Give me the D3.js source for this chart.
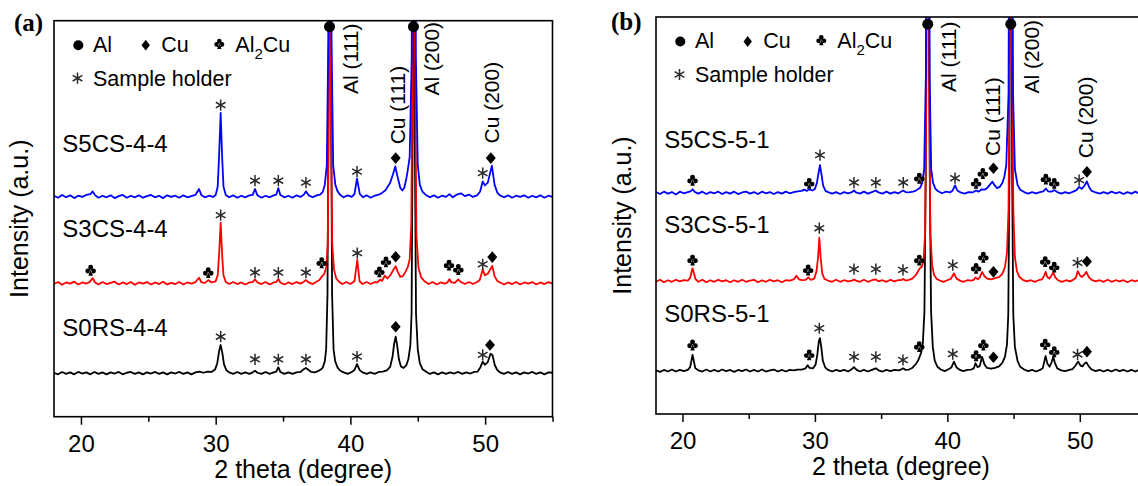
<!DOCTYPE html>
<html>
<head>
<meta charset="utf-8">
<script src="https://cdn.jsdelivr.net/npm/d3@7"></script>
<style>
  body { margin: 0; background: #fff; }
  svg { display: block; }
</style>
</head>
<body>
<svg id="chart" width="1138" height="486"></svg>
<script>
// axis values
const thetaDomain = [18, 55];
const intensityDomain = [0, 100];
const majorTicks = [20, 30, 40, 50];
const minorTicks = [25, 35, 45, 55];

// series names, colours and stacking offsets
const namesA = ["S5CS-4-4", "S3CS-4-4", "S0RS-4-4"];
const namesB = ["S5CS-5-1", "S3CS-5-1", "S0RS-5-1"];
const colors = ["#0000ff", "#ff0000", "#000000"];
const offsetsA = [55.6, 33.7, 11.0];
const offsetsB = [55.7, 33.5, 10.9];
const nameLevelsA = [66.9, 45.5, 20.4];
const nameLevelsB = [66.9, 45.5, 23.2];

// XRD patterns: [2 theta, intensity above own baseline]
const s5cs44 = [[18.0,0.2],[18.3,-0.3],[18.6,0.4],[18.9,-0.2],[19.2,0.3],[19.5,-0.4],[19.8,0.2],[20.1,-0.1],[20.4,0.4],[20.7,0.6],[20.87,1.3],[21.05,0.3],[21.3,-0.3],[21.6,0.2],[21.9,-0.2],[22.2,0.3],[22.5,-0.4],[22.8,0.1],[23.1,0.4],[23.4,-0.3],[23.7,0.2],[24.0,-0.2],[24.3,0.3],[24.6,-0.3],[24.9,0.1],[25.2,0.4],[25.5,-0.2],[25.8,0.2],[26.1,-0.4],[26.4,0.3],[26.7,-0.1],[27.0,0.2],[27.3,-0.3],[27.6,0.3],[27.9,-0.2],[28.2,0.1],[28.5,0.4],[28.76,1.9],[28.95,0.3],[29.2,-0.2],[29.5,0.2],[29.8,-0.1],[30.0,0.4],[30.15,2.5],[30.25,10],[30.37,21.1],[30.48,10],[30.58,2.5],[30.75,0.4],[31.0,-0.2],[31.3,0.3],[31.6,-0.3],[31.9,0.2],[32.2,-0.2],[32.5,0.3],[32.75,0.4],[32.92,1.9],[33.1,0.3],[33.4,-0.3],[33.7,0.2],[34.0,-0.2],[34.3,0.3],[34.5,0.5],[34.65,2.1],[34.8,0.4],[35.1,-0.2],[35.4,0.2],[35.7,-0.3],[36.0,0.3],[36.3,-0.1],[36.55,0.5],[36.7,1.3],[36.9,0.3],[37.2,-0.2],[37.5,0.3],[37.75,0.5],[37.95,1.2],[38.1,3],[38.25,8],[38.36,40],[38.47,200],[38.6,40],[38.72,8],[38.88,3],[39.05,1.3],[39.25,0.4],[39.5,-0.2],[39.8,0.3],[40.1,-0.1],[40.3,0.6],[40.49,4.5],[40.7,0.6],[40.95,-0.2],[41.2,0.3],[41.5,-0.3],[41.8,0.2],[42.05,0.4],[42.3,0.8],[42.6,1.6],[42.95,3.5],[43.15,5.5],[43.33,7.6],[43.5,5],[43.7,2.2],[43.85,1.5],[44.0,2.2],[44.15,4.5],[44.25,6.5],[44.4,10],[44.55,35],[44.7,200],[44.86,35],[45.0,8],[45.15,3],[45.35,1.2],[45.6,0.4],[45.9,-0.2],[46.2,0.3],[46.5,-0.3],[46.8,0.2],[47.1,-0.1],[47.35,0.6],[47.6,-0.2],[47.9,0.5],[48.2,0.8],[48.5,0.1],[48.8,0.5],[49.1,-0.1],[49.4,0.3],[49.62,1.2],[49.82,3.8],[49.98,2.8],[50.2,3.5],[50.5,7.8],[50.7,3],[50.9,1],[51.1,0.3],[51.4,-0.2],[51.7,0.3],[52.0,-0.3],[52.3,0.2],[52.6,-0.1],[52.9,0.3],[53.2,-0.3],[53.5,0.2],[53.8,-0.2],[54.1,0.3],[54.4,-0.3],[54.7,0.2],[55.0,-0.1]];

const s3cs44 = [[18.0,-0.2],[18.3,0.3],[18.6,-0.4],[18.9,0.2],[19.2,-0.1],[19.5,0.4],[19.8,-0.3],[20.1,0.2],[20.4,-0.1],[20.65,0.3],[20.87,1.3],[21.05,0.2],[21.3,-0.3],[21.6,0.3],[21.9,-0.2],[22.2,0.1],[22.5,0.4],[22.8,-0.3],[23.1,0.2],[23.4,-0.2],[23.7,0.3],[24.0,-0.4],[24.3,0.2],[24.6,-0.1],[24.9,0.3],[25.2,-0.3],[25.5,0.2],[25.8,-0.2],[26.1,0.4],[26.4,-0.3],[26.7,0.1],[27.0,-0.2],[27.3,0.3],[27.6,-0.3],[27.9,0.2],[28.2,-0.1],[28.5,0.3],[28.76,1.4],[28.95,0.2],[29.2,0.1],[29.45,0.8],[29.7,0.2],[30.0,0.5],[30.15,2],[30.25,7],[30.37,15.3],[30.48,7],[30.58,2],[30.75,0.3],[31.0,-0.2],[31.3,0.3],[31.6,-0.2],[31.9,0.2],[32.2,-0.3],[32.5,0.2],[32.75,0.3],[32.92,1.0],[33.1,0.2],[33.4,-0.2],[33.7,0.3],[34.0,-0.3],[34.3,0.2],[34.5,0.3],[34.65,1.1],[34.8,0.2],[35.1,-0.3],[35.4,0.2],[35.7,-0.2],[36.0,0.3],[36.3,-0.1],[36.55,0.4],[36.7,0.8],[36.9,0.2],[37.2,-0.2],[37.45,0.3],[37.7,0.8],[37.9,1.8],[38.05,2.3],[38.2,4],[38.32,10],[38.4,45],[38.47,200],[38.55,45],[38.65,10],[38.78,3.5],[38.95,1.2],[39.15,0.4],[39.4,-0.2],[39.7,0.3],[40.0,-0.2],[40.3,0.5],[40.51,5.9],[40.68,0.5],[40.9,-0.2],[41.2,0.3],[41.5,-0.2],[41.8,0.3],[42.0,0.2],[42.2,0.9],[42.35,0.6],[42.55,1.9],[42.75,1.2],[43.0,2.2],[43.2,3.5],[43.36,4.3],[43.5,3],[43.7,1.6],[43.9,1.8],[44.1,3],[44.25,4],[44.4,6],[44.52,15],[44.61,60],[44.7,200],[44.8,60],[44.9,12],[45.05,4],[45.25,1.5],[45.5,0.5],[45.8,-0.2],[46.1,0.3],[46.4,-0.3],[46.7,0.2],[47.0,-0.1],[47.2,0.2],[47.35,1.0],[47.5,0.2],[47.75,0.1],[48.0,1.0],[48.2,0.3],[48.5,-0.2],[48.8,0.3],[49.1,-0.2],[49.4,0.3],[49.6,0.8],[49.82,3.5],[49.98,2],[50.2,2.4],[50.53,4.4],[50.7,1.8],[50.9,0.6],[51.1,0.2],[51.4,-0.3],[51.7,0.2],[52.0,-0.2],[52.3,0.3],[52.6,-0.3],[52.9,0.2],[53.2,-0.1],[53.5,0.3],[53.8,-0.3],[54.1,0.2],[54.4,-0.2],[54.7,0.3],[55.0,-0.1]];

const s0rs44 = [[18.0,0.1],[18.3,-0.3],[18.6,0.3],[18.9,-0.2],[19.2,0.2],[19.5,-0.3],[19.8,0.3],[20.1,-0.1],[20.4,0.2],[20.7,-0.3],[21.0,0.3],[21.3,-0.2],[21.6,0.2],[21.9,-0.3],[22.2,0.2],[22.5,-0.1],[22.8,0.3],[23.1,-0.3],[23.4,0.1],[23.7,0.3],[24.0,-0.2],[24.3,0.2],[24.6,-0.3],[24.9,0.2],[25.2,-0.1],[25.5,0.3],[25.8,-0.2],[26.1,0.2],[26.4,-0.3],[26.7,0.2],[27.0,-0.1],[27.3,0.3],[27.6,-0.2],[27.9,0.2],[28.2,-0.3],[28.5,0.2],[28.8,0.4],[29.1,0.1],[29.4,0.4],[29.7,0.3],[29.95,0.9],[30.12,2.5],[30.25,5.5],[30.37,7.1],[30.5,5],[30.62,2.2],[30.8,0.7],[31.0,0.2],[31.3,-0.2],[31.6,0.3],[31.9,-0.2],[32.2,0.2],[32.5,-0.2],[32.75,0.2],[32.92,0.6],[33.1,0.1],[33.4,-0.2],[33.7,0.3],[34.0,-0.2],[34.3,0.2],[34.5,0.4],[34.65,1.5],[34.8,0.3],[35.1,-0.2],[35.4,0.2],[35.7,-0.2],[36.0,0.2],[36.3,0.3],[36.5,0.9],[36.7,1.3],[36.9,0.8],[37.1,0.3],[37.35,0.2],[37.6,0.5],[37.8,0.9],[37.95,1.4],[38.1,3],[38.2,6],[38.3,20],[38.39,80],[38.47,200],[38.55,80],[38.64,20],[38.75,6],[38.87,3],[39.05,1.4],[39.25,0.6],[39.5,0.2],[39.8,-0.2],[40.1,0.3],[40.3,0.8],[40.49,2.3],[40.68,0.8],[40.9,0.2],[41.2,-0.2],[41.5,0.2],[41.8,-0.2],[42.1,0.3],[42.4,0.4],[42.7,0.7],[42.95,1.6],[43.12,4],[43.25,7.5],[43.36,9.2],[43.47,7],[43.6,3.5],[43.75,1.7],[43.95,1.3],[44.15,2],[44.3,3.5],[44.45,7],[44.54,15],[44.62,60],[44.7,200],[44.78,60],[44.87,15],[45.0,6],[45.15,2.5],[45.35,1],[45.6,0.4],[45.9,-0.2],[46.2,0.2],[46.5,-0.3],[46.8,0.2],[47.1,-0.2],[47.4,0.2],[47.7,-0.1],[48.0,0.3],[48.3,-0.2],[48.6,0.2],[48.9,-0.1],[49.2,0.3],[49.45,0.4],[49.65,1.5],[49.82,2.9],[49.98,2.1],[50.2,2.8],[50.4,4.9],[50.55,4.5],[50.72,2],[50.9,0.8],[51.1,0.2],[51.4,-0.2],[51.7,0.3],[52.0,-0.2],[52.3,0.2],[52.6,-0.3],[52.9,0.2],[53.2,-0.1],[53.5,0.3],[53.8,-0.2],[54.1,0.2],[54.4,-0.3],[54.7,0.2],[55.0,0.1]];

const s5cs51 = [[18.0,0.2],[18.3,-0.3],[18.6,0.3],[18.9,-0.2],[19.2,0.2],[19.5,-0.4],[19.8,0.3],[20.1,-0.1],[20.4,0.2],[20.6,0.4],[20.76,0.9],[20.95,0.2],[21.2,-0.2],[21.5,0.3],[21.8,-0.3],[22.1,0.2],[22.4,-0.1],[22.7,0.3],[23.0,-0.3],[23.3,0.2],[23.6,-0.2],[23.9,0.3],[24.2,-0.3],[24.5,0.1],[24.8,0.3],[25.1,-0.2],[25.4,0.2],[25.7,-0.3],[26.0,0.3],[26.3,-0.1],[26.6,0.2],[26.9,-0.3],[27.2,0.2],[27.5,-0.2],[27.8,0.3],[28.1,-0.1],[28.4,0.2],[28.7,0.4],[29.0,0.5],[29.2,0.8],[29.4,0.5],[29.57,0.9],[29.8,0.6],[30.0,1],[30.15,2.5],[30.27,5],[30.38,7],[30.5,4.5],[30.62,1.8],[30.8,0.5],[31.0,0.2],[31.3,-0.2],[31.6,0.2],[31.9,-0.3],[32.2,0.2],[32.5,-0.1],[32.8,0.2],[32.95,0.6],[33.1,0.1],[33.4,-0.2],[33.7,0.3],[34.0,-0.2],[34.3,0.2],[34.6,0.6],[34.8,0.1],[35.1,-0.2],[35.4,0.3],[35.7,-0.2],[36.0,0.2],[36.3,-0.1],[36.5,0.3],[36.67,0.6],[36.85,0.2],[37.1,0.1],[37.4,0.3],[37.6,0.5],[37.8,1.0],[37.95,1.3],[38.1,2.5],[38.25,6],[38.38,30],[38.52,200],[38.66,30],[38.78,6],[38.92,2.5],[39.1,1],[39.3,0.4],[39.6,-0.1],[39.9,0.3],[40.2,0.1],[40.4,0.6],[40.58,1.9],[40.75,0.6],[41.0,0.1],[41.3,-0.2],[41.6,0.2],[41.9,0.1],[42.17,0.6],[42.35,0.3],[42.6,0.9],[42.8,0.8],[43.0,1.2],[43.2,2],[43.4,2.8],[43.55,2],[43.75,1.2],[43.95,1.5],[44.15,2.5],[44.3,4],[44.45,7],[44.62,25],[44.79,200],[44.96,25],[45.1,6],[45.3,2],[45.5,0.8],[45.8,0.2],[46.1,-0.2],[46.4,0.2],[46.7,-0.1],[47.0,0.2],[47.25,0.4],[47.44,1.1],[47.6,0.4],[47.85,0.3],[48.07,0.7],[48.3,0.2],[48.6,-0.2],[48.9,0.2],[49.2,-0.1],[49.5,0.3],[49.75,0.7],[49.95,1.5],[50.15,1],[50.35,1.8],[50.53,2.9],[50.7,1.5],[50.9,0.5],[51.2,0.1],[51.5,-0.2],[51.8,0.2],[52.1,-0.2],[52.4,0.3],[52.7,-0.1],[53.0,0.2],[53.3,-0.3],[53.6,0.2],[53.9,-0.2],[54.2,0.3],[54.5,-0.2],[54.8,0.2],[55.0,0]];

const s3cs51 = [[18.0,-0.2],[18.3,0.3],[18.6,-0.3],[18.9,0.2],[19.2,-0.2],[19.5,0.3],[19.8,-0.1],[20.1,0.2],[20.4,0.1],[20.58,0.8],[20.68,2.2],[20.76,3.2],[20.86,2],[20.98,0.5],[21.2,-0.2],[21.5,0.3],[21.8,-0.3],[22.1,0.2],[22.4,-0.2],[22.7,0.3],[23.0,-0.1],[23.3,0.2],[23.6,-0.3],[23.9,0.2],[24.2,-0.2],[24.5,0.3],[24.8,-0.2],[25.1,0.1],[25.4,0.3],[25.7,-0.3],[26.0,0.2],[26.3,-0.2],[26.6,0.3],[26.9,-0.1],[27.2,0.2],[27.5,-0.3],[27.8,0.2],[28.1,0.1],[28.4,0.4],[28.6,1.3],[28.8,0.4],[29.0,0.2],[29.3,0.3],[29.5,0.9],[29.7,0.3],[29.95,0.6],[30.12,2.5],[30.24,6],[30.33,10.9],[30.43,6],[30.55,2],[30.72,0.5],[31.0,0.1],[31.3,-0.2],[31.6,0.3],[31.9,-0.2],[32.2,0.2],[32.5,-0.1],[32.8,0.1],[32.95,0.4],[33.1,0.1],[33.4,-0.2],[33.7,0.3],[34.0,-0.2],[34.3,0.2],[34.6,0.4],[34.8,-0.1],[35.1,0.2],[35.4,-0.2],[35.7,0.3],[36.0,-0.1],[36.3,0.2],[36.5,0.2],[36.67,0.5],[36.85,0.1],[37.1,0.3],[37.35,0.6],[37.6,1.4],[37.8,2.5],[37.92,3.2],[38.05,3.5],[38.2,5],[38.32,12],[38.42,50],[38.52,200],[38.62,50],[38.72,12],[38.85,4],[39.0,1.5],[39.2,0.5],[39.45,0.1],[39.7,-0.2],[40.0,0.2],[40.25,0.5],[40.5,1.9],[40.7,0.6],[40.95,0.1],[41.2,-0.2],[41.5,0.2],[41.8,0.1],[42.0,0.3],[42.12,0.9],[42.3,0.4],[42.45,0.9],[42.62,2.3],[42.8,1.2],[43.0,0.6],[43.3,0.4],[43.6,0.7],[43.9,1],[44.15,1.8],[44.35,3.5],[44.5,7],[44.62,18],[44.71,60],[44.8,200],[44.89,60],[44.98,18],[45.1,6],[45.25,2.5],[45.45,1],[45.7,0.3],[46.0,-0.1],[46.3,0.2],[46.6,-0.2],[46.9,0.2],[47.15,0.4],[47.3,1.3],[47.42,2.3],[47.55,1],[47.7,0.6],[47.85,1.3],[48.0,2.1],[48.15,0.9],[48.35,0.2],[48.65,-0.2],[48.95,0.2],[49.25,-0.1],[49.5,0.3],[49.7,0.8],[49.85,2.5],[50.0,1.5],[50.15,1],[50.35,1.6],[50.5,2.3],[50.68,1],[50.9,0.3],[51.2,-0.1],[51.5,0.2],[51.8,-0.2],[52.1,0.3],[52.4,-0.2],[52.7,0.2],[53.0,-0.1],[53.3,0.2],[53.6,-0.3],[53.9,0.2],[54.2,-0.1],[54.5,0.3],[54.8,-0.2],[55.0,0.1]];

const s0rs51 = [[18.0,0.1],[18.3,-0.3],[18.6,0.2],[18.9,-0.2],[19.2,0.3],[19.5,-0.2],[19.8,0.2],[20.1,-0.1],[20.4,0.2],[20.58,0.9],[20.67,2.5],[20.76,4],[20.86,2.4],[20.97,0.6],[21.2,0.1],[21.5,-0.2],[21.8,0.3],[22.1,-0.2],[22.4,0.2],[22.7,-0.2],[23.0,0.3],[23.3,-0.1],[23.6,0.2],[23.9,-0.3],[24.2,0.2],[24.5,-0.1],[24.8,0.3],[25.1,-0.2],[25.4,0.2],[25.7,-0.2],[26.0,0.3],[26.3,-0.2],[26.6,0.1],[26.9,0.3],[27.2,-0.2],[27.5,0.2],[27.8,-0.2],[28.1,0.2],[28.4,0.1],[28.7,0.3],[29.0,0.3],[29.3,0.6],[29.45,1.4],[29.6,0.7],[29.85,0.6],[30.05,1.5],[30.18,4],[30.3,7.5],[30.38,8.2],[30.48,6],[30.6,2.5],[30.78,0.8],[31.0,0.2],[31.3,-0.2],[31.6,0.2],[31.9,-0.1],[32.2,0.2],[32.5,-0.2],[32.75,0.3],[32.95,0.9],[33.15,0.2],[33.4,-0.2],[33.7,0.2],[34.0,-0.2],[34.3,0.2],[34.6,0.6],[34.8,0.1],[35.1,-0.2],[35.4,0.2],[35.7,-0.1],[36.0,0.2],[36.3,0.1],[36.5,0.3],[36.67,0.6],[36.85,0.2],[37.1,0.3],[37.35,0.7],[37.6,1.6],[37.78,2.5],[37.9,3.5],[38.02,4.5],[38.15,7],[38.27,15],[38.37,50],[38.52,200],[38.67,50],[38.77,15],[38.9,6],[39.05,2.5],[39.25,1],[39.5,0.3],[39.8,-0.1],[40.05,0.3],[40.3,0.8],[40.5,2.3],[40.7,0.8],[40.95,0.2],[41.2,-0.1],[41.5,0.2],[41.8,0.3],[42.0,0.6],[42.12,1.9],[42.28,0.9],[42.45,1.2],[42.62,3.5],[42.8,1.6],[43.0,0.7],[43.3,0.5],[43.6,0.7],[43.9,1.1],[44.15,2],[44.35,3.5],[44.5,6.5],[44.6,14],[44.69,50],[44.79,200],[44.89,50],[44.98,14],[45.1,6],[45.3,2.5],[45.5,1],[45.8,0.3],[46.1,-0.1],[46.4,0.2],[46.7,-0.2],[47.0,0.2],[47.2,0.6],[47.32,2.3],[47.42,3.7],[47.55,1.8],[47.72,1],[47.88,2.2],[48.0,3.5],[48.12,2],[48.3,0.6],[48.6,0.1],[48.9,-0.1],[49.2,0.2],[49.45,0.4],[49.65,1.2],[49.88,2.3],[50.05,1.3],[50.2,1.1],[50.38,1.9],[50.5,2.1],[50.68,1.1],[50.9,0.3],[51.2,-0.1],[51.5,0.2],[51.8,-0.2],[52.1,0.2],[52.4,-0.2],[52.7,0.3],[53.0,-0.1],[53.3,0.2],[53.6,-0.2],[53.9,0.2],[54.2,-0.2],[54.5,0.3],[54.8,-0.1],[55.0,0.1]];

// phase markers: [2 theta, absolute intensity]
const alMarksA = [[38.45, 98.5], [44.68, 98.5]];
const cuMarksA = [[43.36,65.3],[50.42,65.3],[43.36,40.4],[50.53,40.3],[43.36,22.7],[50.36,18.1]];
const al2cuMarksA = [[20.72,37.0],[29.45,36.4],[37.87,38.9],[42.15,36.6],[42.64,39.1],[47.32,38.3],[48.01,37.2]];
const holderMarksA = [[30.37,78.7],[32.92,59.6],[34.65,59.6],[36.7,59.1],[40.49,61.9],[49.82,61.5],
  [30.37,50.9],[32.92,36.4],[34.65,36.4],[36.7,36.4],[40.51,41.3],[49.82,38.5],
  [30.37,20.2],[32.92,14.5],[34.65,14.5],[36.7,14.5],[40.49,15.2],[49.82,15.6]];

const alMarksB = [[38.52, 98.2], [44.79, 98.2]];
const cuMarksB = [[43.48,61.9],[50.54,61.0],[43.48,35.8],[50.54,38.4],[43.48,14.3],[50.54,15.7]];
const al2cuMarksB = [[20.76,58.9],[29.57,58.1],[37.88,59.4],[42.17,58.1],[42.68,60.6],[47.44,59.2],[48.07,58.1],
  [20.76,38.8],[29.49,36.3],[37.88,38.8],[42.17,36.7],[42.72,39.5],[47.39,38.4],[48.07,37.0],
  [20.76,17.4],[29.57,14.9],[37.88,17.0],[42.17,14.7],[42.72,17.4],[47.39,17.6],[48.07,15.7]];
const holderMarksB = [[30.38,65.2],[32.95,58.3],[34.6,58.3],[36.67,58.3],[40.58,59.4],[49.95,58.9],
  [30.33,46.8],[32.95,36.5],[34.6,36.5],[36.65,36.3],[40.41,37.5],[49.83,38.1],
  [30.33,21.6],[32.95,14.4],[34.6,14.4],[36.65,13.6],[40.41,15.1],[49.83,15.0]];

// reflection labels: [text, 2 theta, intensity]
const peakLabelsA = [["Al (111)", 39.97, 90.4], ["Al (200)", 46.04, 90.4], ["Cu (111)", 43.53, 78.7], ["Cu (200)", 50.49, 79.3]];
const peakLabelsB = [["Al (111)", 40.08, 90.0], ["Al (200)", 46.38, 90.0], ["Cu (111)", 43.43, 74.9], ["Cu (200)", 50.41, 74.7]];
const nameTheta = 18.62;

const SANS = "'Liberation Sans', Arial, Helvetica, sans-serif";
const SERIF = "'Liberation Serif', 'Times New Roman', serif";

// club (Al2Cu) glyph: three lobes and a stem
const clubPath = (cx, cy, s) => {
    const r = 2.6 * s;
    const p = d3.path();
    [[0, -3.0], [-3.0, 0.8], [3.0, 0.8]].forEach(([dx, dy]) => {
        p.moveTo(cx + dx * s + r, cy + dy * s);
        p.arc(cx + dx * s, cy + dy * s, r, 0, Math.PI * 2);
    });
    p.moveTo(cx - 0.7 * s, cy);
    p.lineTo(cx - 2.3 * s, cy + 5.8 * s);
    p.lineTo(cx + 2.3 * s, cy + 5.8 * s);
    p.lineTo(cx + 0.7 * s, cy);
    p.closePath();
    return p.toString();
};

const diamondPath = (cx, cy, w, h) =>
    `M${cx},${cy - h}L${cx + w},${cy}L${cx},${cy + h}L${cx - w},${cy}Z`;

const asterisk = d3.symbol(d3.symbolAsterisk, 88);

const drawPanel = (svg, p) => {
    const x = d3.scaleLinear().domain(thetaDomain).range([p.left, p.right]);
    const y = d3.scaleLinear().domain(intensityDomain).range([p.bottom, p.top]);
    const g = svg.append("g");

    g.append("clipPath").attr("id", "clip-" + p.id)
     .append("rect")
     .attr("x", p.left).attr("y", p.top)
     .attr("width", p.right - p.left).attr("height", p.bottom - p.top);

    const line = d3.line().x(d => x(d[0])).y(d => y(d[1]));
    const plot = g.append("g").attr("clip-path", `url(#clip-${p.id})`);

    // black first, blue last
    p.series.slice().reverse().forEach(s => {
        plot.append("path")
            .datum(s.values.map(d => [d[0], d[1] + s.offset]))
            .attr("d", line)
            .attr("fill", "none")
            .attr("stroke", s.color)
            .attr("stroke-width", 1.8)
            .attr("stroke-linejoin", "round");
    });

    // markers
    g.selectAll(".holder").data(p.holder).enter().append("path")
     .attr("transform", d => `translate(${x(d[0])},${y(d[1])})`)
     .attr("d", asterisk)
     .attr("fill", "none").attr("stroke", "#2a2a2a").attr("stroke-width", 1.5);

    g.selectAll(".cu").data(p.cu).enter().append("path")
     .attr("d", d => diamondPath(x(d[0]), y(d[1]), 5, 5.8))
     .attr("fill", "#000");

    g.selectAll(".al2cu").data(p.al2cu).enter().append("path")
     .attr("d", d => clubPath(x(d[0]), y(d[1]), 0.95))
     .attr("fill", "#000");

    g.selectAll(".al").data(p.al).enter().append("circle")
     .attr("cx", d => x(d[0])).attr("cy", d => y(d[1]))
     .attr("r", 5.5).attr("fill", "#000");

    // reflection labels
    g.selectAll(".plabel").data(p.peakLabels).enter().append("text")
     .attr("transform", d => `translate(${x(d[1])},${y(d[2])}) rotate(-90)`)
     .attr("text-anchor", "middle")
     .attr("dominant-baseline", "central")
     .attr("font-family", SANS).attr("font-size", 21)
     .text(d => d[0]);

    // sample names
    p.series.forEach(s => {
        g.append("text")
         .attr("x", x(nameTheta)).attr("y", y(s.nameLevel))
         .attr("font-family", SANS).attr("font-size", 24)
         .text(s.name);
    });

    // frame
    g.append("rect")
     .attr("x", p.left).attr("y", p.top)
     .attr("width", p.right - p.left).attr("height", p.bottom - p.top)
     .attr("fill", "none").attr("stroke", "#000").attr("stroke-width", 1.6);

    // x axis
    const ax = g.append("g").attr("transform", `translate(0,${p.bottom})`)
        .call(d3.axisBottom(x).tickValues(majorTicks).tickSize(8).tickPadding(10).tickFormat(d3.format("d")));
    ax.select(".domain").remove();
    ax.attr("font-family", SANS).attr("font-size", 24);
    ax.selectAll("line").attr("stroke-width", 1.5);

    const axm = g.append("g").attr("transform", `translate(0,${p.bottom})`)
        .call(d3.axisBottom(x).tickValues(minorTicks).tickSize(5).tickFormat(""));
    axm.select(".domain").remove();
    axm.selectAll("line").attr("stroke-width", 1.5);

    g.append("text")
     .attr("x", (p.left + p.right) / 2).attr("y", p.bottom + 61)
     .attr("text-anchor", "middle")
     .attr("font-family", SANS).attr("font-size", 25)
     .text("2 theta (degree)");

    g.append("text")
     .attr("transform", `translate(${p.yTitleX},${(p.top + p.bottom) / 2}) rotate(-90)`)
     .attr("text-anchor", "middle")
     .attr("font-family", SANS).attr("font-size", 25)
     .text("Intensity (a.u.)");

    // legend
    const lx = p.left, ly = p.top;
    g.append("circle").attr("cx", lx + 24.3).attr("cy", ly + 24.5).attr("r", 5).attr("fill", "#000");
    g.append("path").attr("d", diamondPath(lx + 91.7, ly + 24.5, 4.2, 5.4)).attr("fill", "#000");
    g.append("path").attr("d", clubPath(lx + 165.3, ly + 23, 0.9)).attr("fill", "#000");
    g.append("path").attr("transform", `translate(${lx + 23.5},${ly + 57.5})`)
     .attr("d", asterisk).attr("fill", "none").attr("stroke", "#2a2a2a").attr("stroke-width", 1.5);

    const legText = (tx, ty, str) => g.append("text")
        .attr("x", tx).attr("y", ty)
        .attr("font-family", SANS).attr("font-size", 21.5)
        .text(str);
    legText(lx + 39, ly + 31, "Al");
    legText(lx + 107.2, ly + 31, "Cu");
    const al2cu = legText(lx + 181.3, ly + 31, "Al");
    al2cu.append("tspan").attr("font-size", 15).attr("dy", 7).text("2");
    al2cu.append("tspan").attr("dy", -7).text("Cu");
    legText(lx + 39, ly + 65, "Sample holder");

    // panel tag
    svg.append("text")
       .attr("x", p.tagX).attr("y", p.tagY)
       .attr("font-family", SERIF).attr("font-weight", "bold").attr("font-size", 25)
       .text(p.tag);
};

const svg = d3.select("#chart");
svg.append("rect").attr("width", 1138).attr("height", 486).attr("fill", "#fff");

const makeSeries = (names, offsets, levels, values) =>
    names.map((n, i) => ({ name: n, color: colors[i], offset: offsets[i], nameLevel: levels[i], values: values[i] }));

drawPanel(svg, {
    id: "a", left: 54, right: 552.5, top: 20.7, bottom: 416.7,
    yTitleX: 28, tag: "(a)", tagX: 14, tagY: 31,
    series: makeSeries(namesA, offsetsA, nameLevelsA, [s5cs44, s3cs44, s0rs44]),
    al: alMarksA, cu: cuMarksA, al2cu: al2cuMarksA, holder: holderMarksA,
    peakLabels: peakLabelsA
});

drawPanel(svg, {
    id: "b", left: 656, right: 1146, top: 17, bottom: 414,
    yTitleX: 631, tag: "(b)", tagX: 611, tagY: 30,
    series: makeSeries(namesB, offsetsB, nameLevelsB, [s5cs51, s3cs51, s0rs51]),
    al: alMarksB, cu: cuMarksB, al2cu: al2cuMarksB, holder: holderMarksB,
    peakLabels: peakLabelsB
});
</script>
</body>
</html>
